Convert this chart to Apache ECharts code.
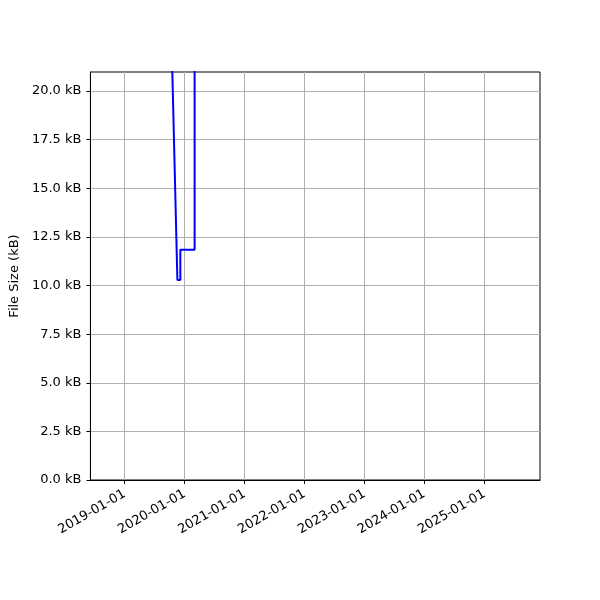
<!DOCTYPE html>
<html>
<head>
<meta charset="utf-8">
<script src="https://cdn.jsdelivr.net/npm/echarts@6/dist/echarts.min.js"></script>
<style>html,body{margin:0;padding:0;background:#fff}#c{width:600px;height:600px}</style>
</head>
<body>
<div id="c"></div>
<script>
// Data
const dates = ['2019-10-06', '2019-11-18', '2019-12-06', '2019-12-06', '2020-03-02', '2020-03-02'];
const sizesKB = [25.2, 10.28, 10.28, 11.84, 11.84, 30.0];
const xTickLabels = ['2019-01-01', '2020-01-01', '2021-01-01', '2022-01-01', '2023-01-01', '2024-01-01', '2025-01-01'];
const yTicks = [0, 2.5, 5, 7.5, 10, 12.5, 15, 17.5, 20];
const xMinDate = '2018-06-06';
const xMaxDate = '2025-12-06';
const yMax = 20.98;

function ts(s) { const p = s.split('-').map(Number); return Date.UTC(p[0], p[1] - 1, p[2]); }
function fmt(v) {
  const d = new Date(v);
  const pad = n => (n < 10 ? '0' : '') + n;
  return d.getUTCFullYear() + '-' + pad(d.getUTCMonth() + 1) + '-' + pad(d.getUTCDate());
}
const xTicks = xTickLabels.map(ts);
const seriesData = dates.map((d, i) => [ts(d), sizesKB[i]]);

const chart = echarts.init(document.getElementById('c'), null, { renderer: 'canvas' });
const font = 'DejaVu Sans';
chart.setOption({
  animation: false,
  backgroundColor: '#fff',
  grid: { left: 90, right: 60, top: 72, bottom: 120, show: true, borderColor: '#000', borderWidth: 1, backgroundColor: 'transparent' },
  xAxis: {
    type: 'value',
    min: ts(xMinDate),
    max: ts(xMaxDate),
    axisLine: { lineStyle: { color: '#000', width: 1 } },
    axisTick: { show: true, length: 4, lineStyle: { color: '#000' }, customValues: xTicks },
    axisLabel: { customValues: xTicks, formatter: v => fmt(v), rotate: 30, margin: 13, color: '#000', fontSize: 13, fontFamily: font },
    splitLine: { show: true, lineStyle: { color: '#b0b0b0', width: 1 } }
  },
  yAxis: {
    type: 'value',
    min: 0,
    max: yMax,
    name: 'File Size (kB)',
    nameLocation: 'middle',
    nameGap: 63,
    nameTextStyle: { color: '#000', fontSize: 13, fontFamily: font },
    axisLine: { show: true, lineStyle: { color: '#000', width: 1 } },
    axisTick: { show: true, length: 4, lineStyle: { color: '#000' }, customValues: yTicks },
    axisLabel: { customValues: yTicks, formatter: v => v.toFixed(1) + ' kB', margin: 9, color: '#000', fontSize: 13, fontFamily: font },
    splitLine: { show: true, lineStyle: { color: '#b0b0b0', width: 1 } }
  },
  series: [{
    type: 'line',
    data: seriesData,
    showSymbol: false,
    clip: true,
    lineStyle: { color: '#0000ff', width: 2 }
  }]
});
</script>
</body>
</html>
